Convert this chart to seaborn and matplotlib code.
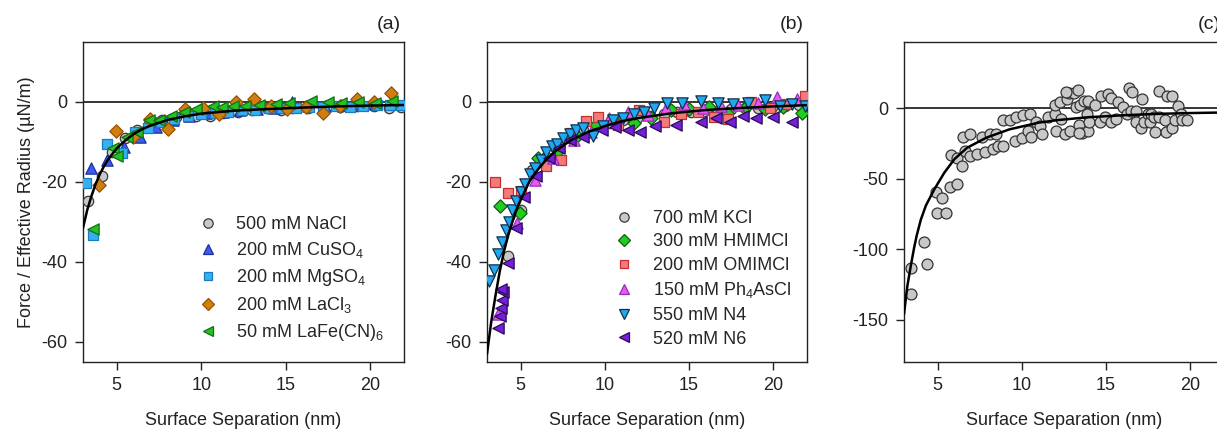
import numpy as np
import pandas as pd
import seaborn as sns
import matplotlib
matplotlib.use("Agg")
import matplotlib.pyplot as plt
from matplotlib.lines import Line2D

# ---------------- data: panel (a) ----------------
a_nacl_x = [3.3, 4.1, 4.7, 5.5, 6.2, 6.9, 7.7, 8.5, 9.2, 9.7, 10.5, 11.3, 12.2, 13.0, 13.9, 14.7, 15.4, 16.3, 17.2, 18.2, 19.2, 20.2, 21.1, 21.8]
a_nacl_y = [-24.8, -18.6, -12.5, -9.0, -6.9, -5.4, -4.4, -3.8, -3.5, -3.6, -3.6, -2.8, -2.4, -2.0, -1.6, -2.0, -1.6, -1.4, -1.3, -1.2, -1.0, -1.0, -1.5, -1.2]
a_cuso4_x = [3.5, 4.4, 5.4, 6.35, 7.3, 8.3, 9.3, 10.3, 11.3, 12.3, 13.3, 14.3, 15.4, 16.3, 17.3, 18.3, 19.3, 20.3, 21.3]
a_cuso4_y = [-16.6, -14.5, -11.2, -8.7, -6.2, -4.6, -3.5, -2.8, -2.4, -2.0, -1.8, -1.4, -0.1, -1.0, -1.0, -0.8, -0.6, -0.5, -0.4]
a_mgso4_x = [3.2, 3.6, 4.4, 5.3, 6.05, 6.85, 7.6, 8.4, 9.2, 10.0, 10.8, 11.6, 12.4, 13.2, 14.0, 14.8, 15.6, 16.4, 17.2, 18.0, 18.8, 19.6, 20.4, 21.2, 21.85]
a_mgso4_y = [-20.2, -33.2, -10.5, -12.8, -7.4, -6.6, -5.0, -4.3, -3.6, -3.0, -2.7, -2.4, -2.0, -2.0, -1.6, -1.4, -1.4, -1.3, -1.2, -1.0, -1.2, -1.0, -0.8, -0.7, -0.8]
a_lacl3_x = [3.94, 4.98, 5.96, 6.98, 8.02, 9.04, 10.1, 11.06, 12.04, 13.1, 14.1, 15.08, 16.2, 17.2, 18.2, 19.2, 20.2, 21.25]
a_lacl3_y = [-20.75, -7.25, -8.7, -4.3, -6.7, -1.8, -1.5, -3.1, -0.1, 0.7, -1.0, -1.8, -1.2, -2.7, -1.0, 0.7, 0.1, 2.2]
a_lafe_x = [3.6, 4.8, 5.0, 5.6, 6.2, 6.9, 7.5, 8.2, 9.0, 9.7, 10.7, 11.2, 11.9, 12.6, 13.4, 14.4, 15.2, 16.5, 17.5, 18.3, 19.3, 20.3, 21.3]
a_lafe_y = [-31.8, -11.5, -13.6, -8.7, -7.5, -4.4, -4.4, -3.6, -2.5, -1.7, -1.1, -1.3, -1.1, -1.1, -0.7, -0.5, -0.3, 0.2, 0.0, -0.3, 0.0, -0.3, 0.2]
a_fit_x = [3.0, 3.25, 3.5, 3.75, 4.0, 4.25, 4.5, 4.75, 5.0, 5.5, 6.0, 6.5, 7.0, 8.0, 9.0, 10.0, 12.0, 14.0, 16.0, 18.0, 20.0, 22.0]
a_fit_y = [-31.5, -27.0, -23.5, -20.5, -18.0, -16.0, -14.3, -12.9, -11.6, -9.6, -8.0, -6.8, -5.9, -4.5, -3.6, -2.9, -2.15, -1.75, -1.4, -1.1, -0.9, -0.75]

# ---------------- data: panel (b) ----------------
b_kcl_x = [4.25, 5.0, 5.7, 6.5, 7.1, 7.9, 8.7, 9.5, 10.3, 11.1, 11.9, 12.7, 13.5, 14.3, 15.1, 15.9, 16.7, 17.5, 18.3, 19.1, 19.9, 20.7, 21.5, 22.0]
b_kcl_y = [-38.5, -27.0, -17.0, -13.7, -11.0, -9.0, -7.0, -6.0, -5.2, -4.4, -4.0, -3.4, -3.0, -2.6, -2.6, -2.2, -2.2, -1.8, -1.6, -1.5, -1.3, -1.0, -0.8, -0.6]
b_hmim_x = [3.8, 4.95, 6.0, 7.2, 8.35, 9.45, 10.6, 11.7, 12.75, 13.9, 15.0, 16.2, 17.25, 18.4, 19.5, 20.6, 21.7]
b_hmim_y = [-26.0, -27.8, -14.0, -12.3, -8.5, -5.8, -4.9, -5.2, -4.1, -2.0, -1.8, -1.2, -2.7, -1.2, -1.8, -1.3, -2.8]
b_omim_x = [3.5, 4.25, 5.0, 6.5, 7.4, 8.0, 8.9, 9.6, 10.8, 12.0, 13.5, 14.5, 15.5, 16.5, 17.3, 18.7, 19.8, 20.8, 21.9]
b_omim_y = [-20.0, -22.8, -22.2, -16.0, -14.4, -7.8, -4.7, -3.8, -5.7, -2.0, -4.9, -3.0, -2.5, -3.7, -4.3, 0.1, -1.5, -0.6, 1.5]
b_ph4_x = [3.65, 4.78, 5.85, 6.93, 8.14, 9.18, 10.25, 11.4, 12.55, 13.6, 14.7, 15.8, 16.9, 17.9, 19.1, 20.2, 21.4]
b_ph4_y = [-53.0, -30.3, -19.4, -14.0, -9.5, -7.4, -4.0, -2.6, -3.25, -1.6, -0.5, -1.6, -1.0, -0.75, -0.2, 1.2, 0.7]
b_n4_x = [3.1, 3.43, 3.65, 3.9, 4.1, 4.3, 4.5, 4.75, 5.0, 5.25, 5.55, 5.85, 6.2, 6.5, 6.85, 7.15, 7.5, 7.9, 8.3, 8.7, 9.3, 9.9, 10.5, 11.1, 11.7, 12.3, 12.9, 13.7, 14.6, 15.7, 16.7, 17.6, 18.5, 19.5, 20.4, 21.1, 21.9]
b_n4_y = [-44.8, -42.0, -38.0, -35.0, -32.0, -30.0, -27.0, -24.8, -22.5, -20.5, -18.0, -16.5, -14.5, -12.5, -11.0, -10.6, -9.0, -8.0, -7.0, -6.5, -8.5, -6.0, -4.5, -4.0, -3.0, -2.5, -1.5, -0.3, -0.3, 0.3, -0.3, -0.5, -0.2, 0.5, -1.0, -0.6, -1.0]
b_n6_x = [3.63, 3.75, 3.82, 3.9, 3.96, 3.86, 4.25, 4.72, 5.2, 5.9, 6.7, 7.3, 7.94, 8.7, 9.8, 10.6, 11.4, 12.1, 13.0, 14.2, 15.7, 16.6, 17.4, 18.2, 19.0, 20.0, 21.1]
b_n6_y = [-56.5, -53.5, -51.5, -49.5, -47.5, -46.8, -40.3, -31.5, -23.7, -18.5, -14.0, -11.5, -9.5, -8.8, -7.0, -6.3, -7.0, -7.4, -6.0, -5.75, -4.9, -4.0, -4.9, -3.5, -4.0, -3.7, -4.9]
b_fit_x = [3.0, 3.25, 3.5, 3.75, 4.0, 4.25, 4.5, 4.75, 5.0, 5.5, 6.0, 6.5, 7.0, 8.0, 9.0, 10.0, 11.0, 12.0, 14.0, 16.0, 18.0, 20.0, 22.0]
b_fit_y = [-63.0, -55.0, -48.5, -42.5, -37.5, -33.5, -30.0, -27.0, -24.5, -20.0, -17.0, -14.5, -12.5, -9.5, -7.5, -6.0, -4.8, -4.0, -2.8, -2.0, -1.5, -1.1, -0.8]

# ---------------- data: panel (c) ----------------
c_x = [3.41, 3.41, 4.2, 4.39, 4.88, 4.94, 5.24, 5.47, 5.76, 6.16, 5.8, 6.12, 6.45, 6.49, 6.9, 6.65, 6.94, 7.33, 7.63, 7.82,
       8.08, 8.45, 8.27, 8.6, 8.9, 8.9, 9.29, 9.59, 9.65, 9.98, 10.08, 10.47, 10.37, 10.57, 10.82, 11.1, 11.22, 11.55, 11.94, 11.94,
       12.0, 12.24, 12.33, 12.53, 12.67, 12.78, 12.86, 13.12, 13.31, 13.22, 13.37, 13.45, 13.57, 13.71, 13.84, 13.9, 13.9, 14.0, 14.35, 14.63,
       14.69, 14.94, 15.12, 15.27, 15.27, 15.57, 15.73, 16.0, 16.25, 16.35, 16.55, 16.45, 16.78, 16.78, 17.1, 17.14, 17.24, 17.49, 17.63, 17.69,
       17.82, 17.88, 18.12, 18.12, 18.47, 18.55, 18.61, 18.9, 18.9, 19.1, 19.25, 19.45, 19.53, 19.78, 12.6, 13.4]
c_y = [-113.2, -131.5, -94.7, -110.8, -59.3, -74.0, -63.4, -74.0, -55.8, -53.4, -33.0, -35.6, -40.8, -20.7, -18.3, -30.1, -33.7, -32.5, -20.7, -31.3,
       -18.3, -18.3, -29.0, -26.6, -26.6, -8.1, -8.1, -23.0, -6.4, -21.4, -4.7, -4.0, -15.9, -20.2, -10.0, -12.3, -18.3, -6.4, -4.0, 2.4,
       -15.9, 4.7, -7.6, -18.3, 6.6, 10.9, -15.9, 10.7, 13.0, 0.7, -11.9, 2.4, -17.8, 5.5, -4.0, 5.5, -15.9, -10.0, 2.4, -10.0,
       8.5, -6.4, 10.2, 7.1, -10.0, -7.6, 4.3, 0.7, -4.0, 14.2, 11.4, -1.7, -1.7, -10.0, -14.2, 6.6, -10.0, -4.0, -10.0, -4.0,
       -6.4, -16.6, 11.9, -6.4, -8.1, -16.6, 8.5, 8.5, -14.2, -8.1, 1.9, -4.0, -8.1, -8.1, 11.3, -17.6]
c_fit_x = [3.0, 3.2, 3.4, 3.6, 3.75, 4.0, 4.3, 4.8, 5.4, 6.0, 6.75, 7.9, 9.25, 11.0, 12.2, 14.0, 16.0, 18.0, 20.0, 22.0]
c_fit_y = [-146.0, -126.0, -112.0, -99.0, -90.5, -79.0, -69.0, -57.5, -45.6, -36.0, -28.0, -20.8, -15.0, -10.2, -8.3, -6.3, -5.0, -4.0, -3.4, -3.0]

a_labels = ["500 mM NaCl", "200 mM CuSO$_4$", "200 mM MgSO$_4$", "200 mM LaCl$_3$", "50 mM LaFe(CN)$_6$"]
b_labels = ["700 mM KCl", "300 mM HMIMCl", "200 mM OMIMCl", "150 mM Ph$_4$AsCl", "550 mM N4", "520 mM N6"]
panel_tags = ["(a)", "(b)", "(c)"]
xlabel = "Surface Separation (nm)"
ylabel = "Force / Effective Radius (µN/m)"

# ---------------- style ----------------
sns.set_theme(style="ticks")
plt.rcParams["font.family"] = ["Liberation Sans", "DejaVu Sans"]
plt.rcParams["mathtext.fontset"] = "custom"
plt.rcParams["mathtext.rm"] = "Liberation Sans"
plt.rcParams["mathtext.it"] = "Liberation Sans:italic"
plt.rcParams["mathtext.bf"] = "Liberation Sans:bold"
plt.rcParams["axes.unicode_minus"] = False
plt.rcParams["axes.linewidth"] = 1.0
plt.rcParams["axes.edgecolor"] = "#222222"

W, H = 1217, 434
fig = plt.figure(figsize=(W / 100, H / 100), dpi=100)

def frac(left, right, top=42, bottom=362):
    return [left / W, (H - bottom) / H, (right - left) / W, (bottom - top) / H]

axA = fig.add_axes(frac(83, 404))
axB = fig.add_axes(frac(487, 807))
axC = fig.add_axes(frac(904, 1224))

grey = ("#c8c8c8", "#3a3a3a")
a_series = [
    (a_nacl_x, a_nacl_y, "o", 56, grey[0], grey[1]),
    (a_cuso4_x, a_cuso4_y, "^", 66, "#3a5cf0", "#1f2f9a"),
    (a_mgso4_x, a_mgso4_y, "s", 44, "#36b0f0", "#1a7cc0"),
    (a_lacl3_x, a_lacl3_y, "D", 46, "#d07d12", "#9a5000"),
    (a_lafe_x, a_lafe_y, "<", 66, "#24c024", "#127012"),
]
b_series = [
    (b_kcl_x, b_kcl_y, "o", 56, grey[0], grey[1]),
    (b_hmim_x, b_hmim_y, "D", 46, "#22cc22", "#115f11"),
    (b_omim_x, b_omim_y, "s", 44, "#f47a7a", "#c43030"),
    (b_ph4_x, b_ph4_y, "^", 66, "#ee55ee", "#9030c0"),
    (b_n4_x, b_n4_y, "v", 66, "#22a8f0", "#10304a"),
    (b_n6_x, b_n6_y, "<", 66, "#7420d8", "#2a0c55"),
]

def draw_series(ax, series):
    for i, (xs, ys, m, s, fc, ec) in enumerate(series):
        df = pd.DataFrame({"x": xs, "y": ys})
        sns.scatterplot(data=df, x="x", y="y", marker=m, s=s, color=fc,
                        edgecolor=ec, linewidth=0.9, ax=ax, zorder=3 + i * 0.01, legend=False)

def draw_fit(ax, xs, ys):
    df = pd.DataFrame({"x": xs, "y": ys})
    sns.lineplot(data=df, x="x", y="y", color="black", lw=1.8, ax=ax,
                 sort=False, estimator=None, zorder=6)

def legend(ax, series, labels, anchor, spacing):
    handles = [Line2D([], [], ls="none", marker=m, markersize=np.sqrt(s) * 0.9,
                      markerfacecolor=fc, markeredgecolor=ec, markeredgewidth=0.9)
               for (_, _, m, s, fc, ec) in series]
    ax.legend(handles, labels, loc="upper left", bbox_to_anchor=anchor,
              frameon=False, fontsize=13, handlelength=1.0, handletextpad=1.1,
              labelspacing=spacing, borderpad=0, borderaxespad=0)

draw_series(axA, a_series)
draw_fit(axA, a_fit_x, a_fit_y)
legend(axA, a_series, a_labels, (0.36, 0.455), 0.38)

draw_series(axB, b_series)
draw_fit(axB, b_fit_x, b_fit_y)
legend(axB, b_series, b_labels, (0.40, 0.475), 0.36)

dfc = pd.DataFrame({"x": c_x, "y": c_y})
sns.scatterplot(data=dfc, x="x", y="y", marker="o", s=62, color="#c8c8c8",
                edgecolor="#333333", linewidth=0.9, ax=axC, zorder=3, legend=False)
draw_fit(axC, c_fit_x, c_fit_y)

for ax, tag in zip([axA, axB, axC], panel_tags):
    ax.axhline(0, color="black", lw=1.1, zorder=1)
    ax.set_xlim(3, 22)
    ax.set_xticks([5, 10, 15, 20])
    ax.tick_params(axis="both", direction="out", length=5.5, width=1.0,
                   labelsize=13, colors="#222222", pad=5.5)
    ax.set_xlabel(xlabel, fontsize=13, labelpad=13, color="#222222")
    ax.set_ylabel("")
    ax.text(0.99, 1.055, tag, transform=ax.transAxes, ha="right", va="center",
            fontsize=14, color="#222222")
    for sp in ax.spines.values():
        sp.set_visible(True)

for ax in [axA, axB]:
    ax.set_ylim(-65, 15)
    ax.set_yticks([0, -20, -40, -60])
axC.set_ylim(-180, 47)
axC.set_yticks([0, -50, -100, -150])

axA.set_ylabel(ylabel, fontsize=13, labelpad=5, color="#222222")

fig.savefig("out.png", dpi=100)
